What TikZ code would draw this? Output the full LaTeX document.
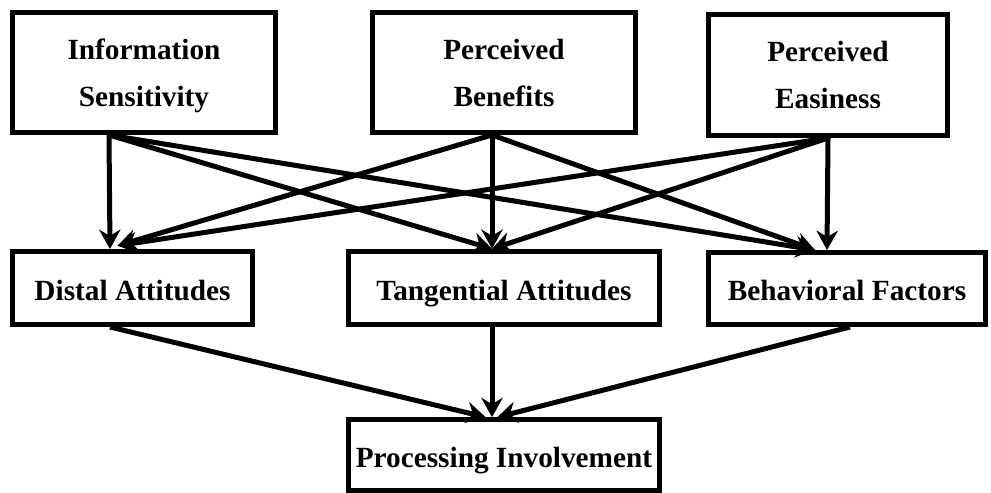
\documentclass[tikz,border=0pt]{standalone}
\usepackage{fontspec}
\setmainfont{Liberation Serif}
\usetikzlibrary{arrows.meta}
\usetikzlibrary{positioning}
\tikzset{%
  factor/.style = {rectangle,draw,line width=0.15cm,inner sep=0pt,
        align=center,text depth=0pt,
        font=\fontsize{25pt}{40pt}\selectfont\bfseries},
  oneline/.style = {factor,text height=0.72cm},
  link/.style = {-{Stealth[length=0.58cm,width=0.64cm]},line width=0.15cm}
}

\begin{document}
\begin{tikzpicture}[x=0.03cm,y=-0.03cm]
  \useasboundingbox (0,0) rectangle (991,492);
  % antecedents
  \node[factor,minimum width=7.89cm,minimum height=3.6cm] (info) at (144,72.5)
    {Information\\Sensitivity};
  \node[factor,minimum width=7.9cm,minimum height=3.6cm] (bene) at (504,72.5)
    {Perceived\\Benefits};
  \node[factor,minimum width=7.19cm,minimum height=3.63cm] (easy) at (828,75)
    {Perceived\\Easiness};
  % attitudes and factors
  \node[oneline,minimum width=7.2cm,minimum height=2.19cm] (distal) at (132.5,288)
    {Distal Attitudes};
  \node[oneline,minimum width=9.35cm,minimum height=2.2cm] (tang) at (504,288)
    {Tangential Attitudes};
  \node[oneline,minimum width=8.33cm,minimum height=2.16cm] (behav) at (847,288.5)
    {Behavioral Factors};
  % outcome
  \node[oneline,minimum width=9.35cm,minimum height=2.12cm] (proc) at (504,455)
    {Processing Involvement};

  \coordinate (info-out) at ([xshift=-1.05cm]info.south);
  \coordinate (bene-out) at ([xshift=-0.36cm]bene.south);
  \coordinate (easy-out) at (easy.south);
  \coordinate (distal-in) at ([xshift=-0.675cm]distal.north);
  \coordinate (distal-in2) at ([xshift=-0.45cm,yshift=0.1cm]distal.north);
  \coordinate (tang-in) at ([xshift=-0.36cm]tang.north);
  \coordinate (behav-in) at ([xshift=-0.6cm]behav.north);
  \coordinate (behav-in2) at ([xshift=-0.96cm]behav.north);
  \coordinate (distal-out) at ([xshift=-0.675cm]distal.south);
  \coordinate (tang-out) at ([xshift=-0.36cm]tang.south);
  \coordinate (behav-out) at ([xshift=0.09cm]behav.south);
  \coordinate (proc-in) at ([xshift=-0.36cm]proc.north);
  \coordinate (proc-in-l) at ([xshift=-0.55cm]proc.north);
  \coordinate (proc-in-r) at ([xshift=-0.2cm]proc.north);

  \draw[link] (info-out) -- (distal-in);
  \draw[link] (info-out) -- (tang-in);
  \draw[link] (info-out) -- (behav-in2);
  \draw[link] (bene-out) -- (distal-in2);
  \draw[link] (bene-out) -- (tang-in);
  \draw[link] (bene-out) -- (behav-in2);
  \draw[link] (easy-out) -- (distal-in2);
  \draw[link] (easy-out) -- (tang-in);
  \draw[link] (easy-out) -- (behav-in);

  \draw[link] (distal-out) -- (proc-in-l);
  \draw[link] (tang-out) -- (proc-in);
  \draw[link] (behav-out) -- (proc-in-r);
\end{tikzpicture}
\end{document}
